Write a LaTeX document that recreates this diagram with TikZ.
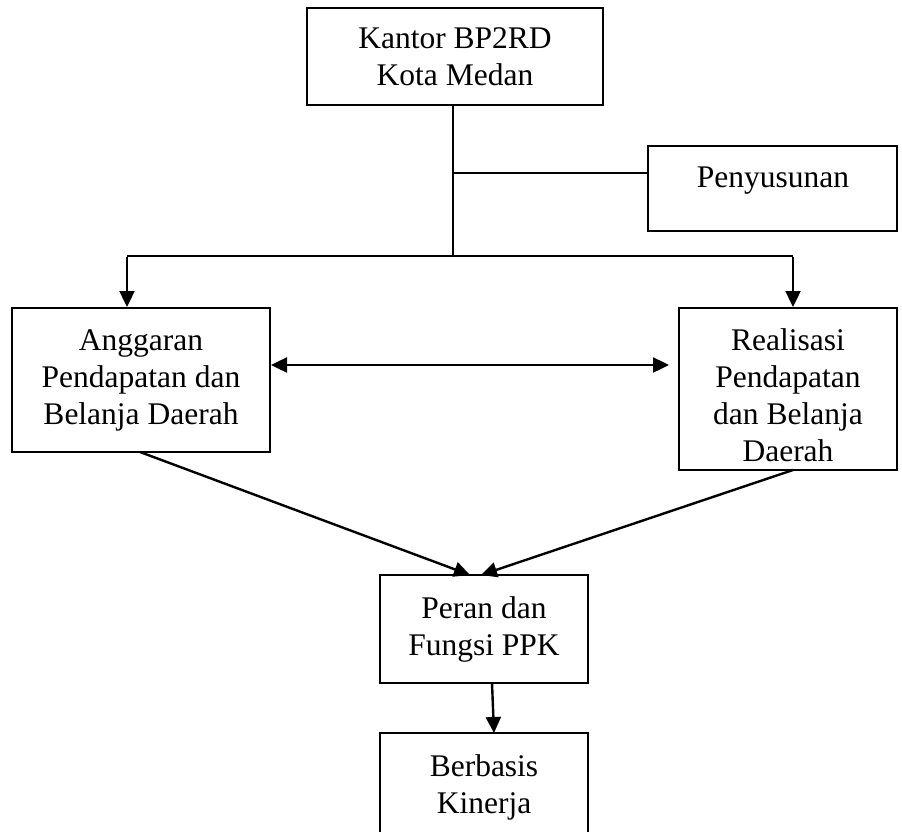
\documentclass[tikz,border=0pt]{standalone}
\usepackage{fontspec}
\setmainfont{Liberation Serif}
\usetikzlibrary{arrows.meta}
\begin{document}
\begin{tikzpicture}[x=1pt,y=-1pt,
  box/.style={draw, line width=2pt, inner sep=0pt, align=center,
    font=\fontsize{31.5}{37}\selectfont},
  txt/.style={inner sep=0pt, align=center, font=\fontsize{31.5}{37}\selectfont},
  conn/.style={line width=2.4pt},
  arr/.style={line width=2.4pt, -{Triangle[length=16pt,width=15pt]}},
  dbl/.style={line width=2.4pt, {Triangle[length=16pt,width=15pt]}-{Triangle[length=16pt,width=15pt]}}]
\useasboundingbox (0,0) rectangle (902,832);
\node[box, minimum width=296pt, minimum height=97pt] (kan) at (455,56.5) {Kantor BP2RD\\Kota Medan};
\node[box, minimum width=249pt, minimum height=85pt] (pen) at (772.5,188.5) {};
\node[txt, anchor=base] (pentxt) at (773,187) {Penyusunan};
\node[box, minimum width=258pt, minimum height=144pt] (ang) at (141,380) {Anggaran\\Pendapatan dan\\Belanja Daerah};
\node[box, minimum width=218pt, minimum height=162pt] (real) at (788,389) {};
\node[txt] (realtxt) at (788,395) {Realisasi\\Pendapatan\\dan Belanja\\Daerah};
\node[box, minimum width=208pt, minimum height=108pt] (per) at (484,629) {Peran dan\\Fungsi PPK};
\node[box, minimum width=208pt, minimum height=108pt] (ber) at (484,787) {Berbasis\\Kinerja};
% junctions
\coordinate (jtop) at (453,105);
\coordinate (jbr) at (453,173);
\coordinate (jmid) at (453,256);
\coordinate (jl) at (127,256);
\coordinate (jr) at (793,256);
\coordinate (my) at (0,365);
\draw[conn] (jtop) -- (jmid);
\draw[line width=1.6pt] (jbr) -- (pen.west |- jbr);
\draw[conn] (jl) -- (jr);
\draw[arr] ([yshift=-1.2pt]jl) -- (jl |- ang.north);
\draw[arr] ([yshift=-1.2pt]jr) -- (jr |- real.north);
\draw[dbl, shorten >=9pt] (ang.east |- my) -- (real.west |- my);
\coordinate (as) at (140,452);
\coordinate (rs) at (793,470);
\coordinate (pl) at (470,575);
\coordinate (pr) at (481,575);
\draw[arr] (as) -- (pl);
\draw[arr] (rs) -- (pr);
\coordinate (ps) at (492,683);
\coordinate (bt) at (494,733);
\draw[arr] (ps) -- (bt);
\end{tikzpicture}
\end{document}
